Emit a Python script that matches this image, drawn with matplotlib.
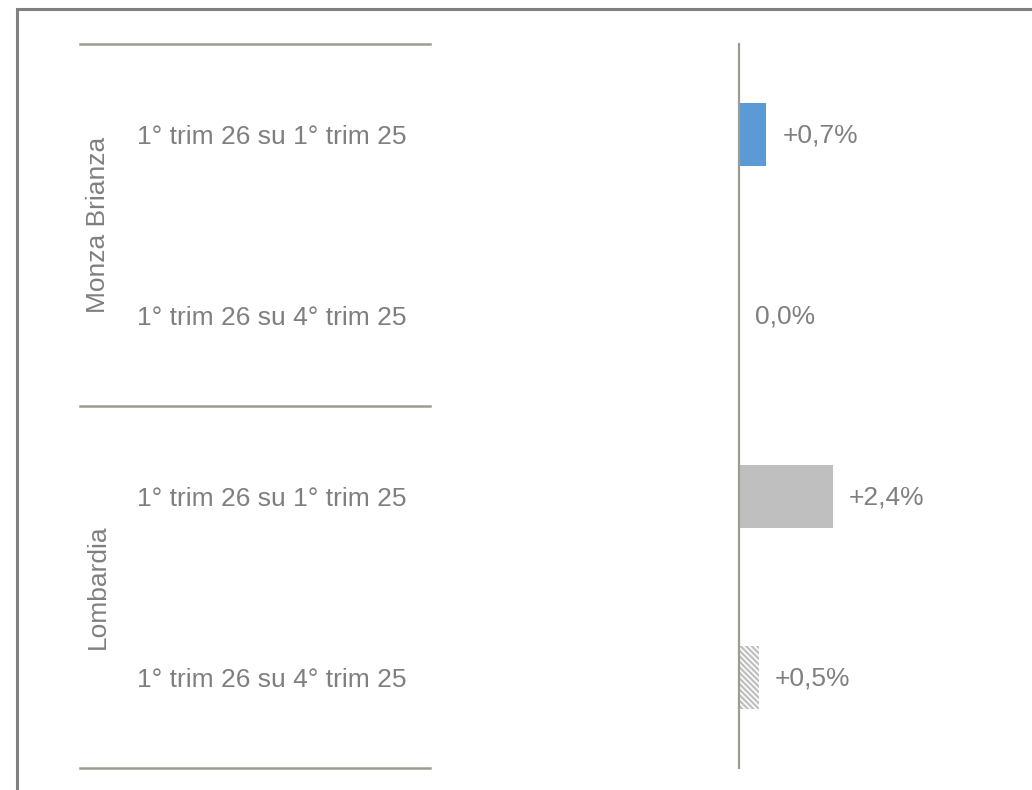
import matplotlib
matplotlib.use("Agg")
import matplotlib.pyplot as plt
from matplotlib.patches import Rectangle
from matplotlib.lines import Line2D
import matplotlib.transforms as mtransforms

plt.rcParams['font.family'] = ['Liberation Sans', 'DejaVu Sans']
plt.rcParams['hatch.linewidth'] = 1.6

groups = ["Monza Brianza", "Lombardia"]
categories = ["1° trim 26 su 1° trim 25", "1° trim 26 su 4° trim 25",
              "1° trim 26 su 1° trim 25", "1° trim 26 su 4° trim 25"]
values = [0.7, 0.0, 2.4, 0.5]
value_labels = ["+0,7%", "0,0%", "+2,4%", "+0,5%"]

W, H = 1032, 790
fig = plt.figure(figsize=(W / 100, H / 100), dpi=100)
fig.patch.set_facecolor("white")

def fx(px):
    return px / W

def fy(py):
    return 1 - py / H

# outer frame (right and bottom edges run past the canvas)
fig.add_artist(Rectangle((fx(17), fy(830)), fx(1100) - fx(17), fy(9) - fy(830),
                         transform=fig.transFigure, fill=False,
                         edgecolor="#808080", linewidth=2.2))

top, bottom = 44, 768
left_px, right_px = 440, 1010
zero_px = 739
px_per_unit = 39.0

ax = fig.add_axes([fx(left_px), fy(bottom), fx(right_px) - fx(left_px), fy(top) - fy(bottom)])
ax.set_xlim(-(zero_px - left_px) / px_per_unit, (right_px - zero_px) / px_per_unit)
n = len(values)
ax.set_ylim(n - 0.5, -0.5)
ax.axis("off")

ypos = list(range(n))
colors = ["#5b9bd5", "#5b9bd5", "#bfbfbf", "white"]
bars = ax.barh(ypos, values, height=0.35, color=colors, edgecolor="none")
bars[3].set_hatch("\\\\\\\\\\\\")
bars[3].set_edgecolor("#bfbfbf")
bars[3].set_linewidth(0)

# vertical zero axis
ax.plot([0, 0], [-0.5, n - 0.5], color="#9c9d92", linewidth=1.6, clip_on=False, zorder=3)

FS = 19
for y, v, lab in zip(ypos, values, value_labels):
    ax.annotate(lab, xy=(v, y), xytext=(11.5, -1), textcoords="offset points",
                ha="left", va="center", fontsize=FS, color="#7f7f7f")

# category labels and group separators
tr = mtransforms.blended_transform_factory(fig.transFigure, ax.transData)
for y, c in zip(ypos, categories):
    ax.annotate(c, xy=(fx(137), y), xycoords=tr, xytext=(0, -1.5), textcoords="offset points",
                ha="left", va="center", fontsize=FS, color="#7f7f7f")

for b in [-0.5, 1.5, 3.5]:
    ax.add_line(Line2D([fx(80), fx(430)], [b, b], transform=tr, color="#9c9d92",
                       linewidth=1.8, clip_on=False))

for gi, g in enumerate(groups):
    ax.text(fx(98), gi * 2 + 0.5, g, transform=tr, rotation=90, ha="center", va="center",
            fontsize=FS, color="#7f7f7f")

fig.savefig("out.png", dpi=100, facecolor="white")
